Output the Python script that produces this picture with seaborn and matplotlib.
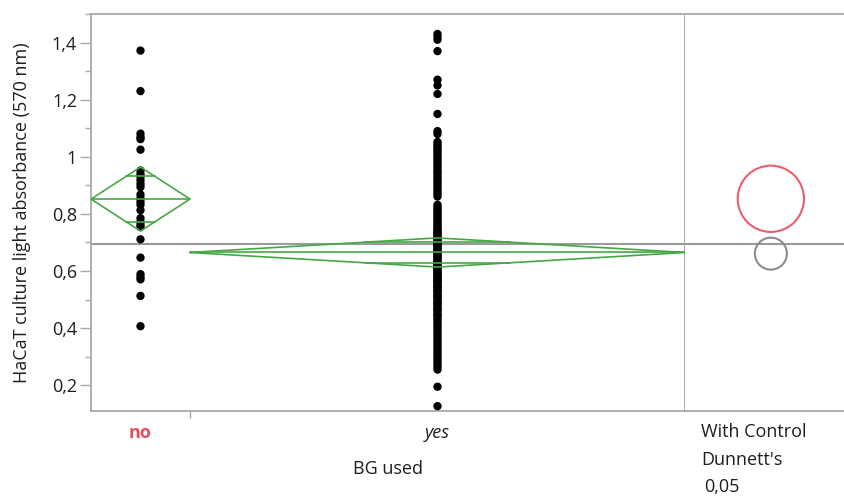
import numpy as np
import pandas as pd
import matplotlib
matplotlib.use("Agg")
import matplotlib.pyplot as plt
import seaborn as sns
from matplotlib.ticker import FixedLocator, FuncFormatter

# ------------------------------------------------------------
# Dati
# ------------------------------------------------------------
groups = ["no", "yes"]

no_values = [1.372, 1.230, 1.081, 1.069, 1.062, 1.025, 0.952, 0.940, 0.930,
             0.918, 0.905, 0.894, 0.868, 0.855, 0.843, 0.832, 0.813, 0.785,
             0.772, 0.762, 0.754, 0.711, 0.647, 0.589, 0.579, 0.571, 0.513,
             0.407]

yes_values = [1.43, 1.42, 1.41, 1.37, 1.27, 1.25, 1.22, 1.15, 1.09, 1.08,
              1.052, 1.046, 1.038, 1.031, 1.024, 1.017, 1.009, 1.001, 0.994,
              0.986, 0.978, 0.969, 0.962, 0.953, 0.946, 0.938, 0.929, 0.921,
              0.913, 0.904, 0.896, 0.887, 0.878, 0.869, 0.861,
              0.832, 0.824, 0.817, 0.811, 0.803, 0.797, 0.790, 0.784, 0.777,
              0.771, 0.765, 0.758, 0.752, 0.747, 0.741, 0.736, 0.730, 0.725,
              0.719, 0.714, 0.708, 0.703, 0.698, 0.692, 0.687, 0.681, 0.676,
              0.671, 0.665, 0.660, 0.655, 0.649, 0.644, 0.638, 0.633, 0.628,
              0.622, 0.617, 0.611, 0.606, 0.601, 0.595, 0.590, 0.584, 0.579,
              0.573, 0.568, 0.562, 0.556, 0.550, 0.544, 0.538, 0.532, 0.526,
              0.519, 0.513, 0.506, 0.499, 0.492, 0.485, 0.478, 0.471, 0.463,
              0.456, 0.448, 0.440, 0.432, 0.424, 0.416, 0.407, 0.399, 0.390,
              0.381, 0.372, 0.363, 0.354, 0.345, 0.336, 0.327, 0.318, 0.309,
              0.300, 0.291, 0.282, 0.273, 0.264, 0.255,
              0.735, 0.712, 0.690, 0.668, 0.652, 0.630, 0.614, 0.598, 0.581,
              0.565, 0.547, 0.529, 0.510, 0.489, 0.467, 0.445,
              0.195, 0.127]

# medie, semi-ampiezza IC 95% (diamanti) e media generale
group_means = [0.852, 0.665]
group_ci_half = [0.112, 0.051]
grand_mean = 0.696

# cerchi di Dunnett (centro, raggio in unità y)
circle_centers = [0.853, 0.661]
circle_radii = [0.116, 0.056]
circle_colors = ["#e8606e", "#8c8c8c"]

y_ticks = [0.2, 0.4, 0.6, 0.8, 1.0, 1.2, 1.4]
y_minor = [0.1, 0.3, 0.5, 0.7, 0.9, 1.1, 1.3, 1.5]

# ------------------------------------------------------------
# DataFrame: larghezza dei gruppi proporzionale a n (stile JMP)
# ------------------------------------------------------------
counts = [len(no_values), len(yes_values)]
starts = np.concatenate([[0], np.cumsum(counts)[:-1]])
ends = np.cumsum(counts)
centers = (starts + ends) / 2

df = pd.concat([
    pd.DataFrame({"BG": g, "value": v, "x": c})
    for g, v, c in zip(groups, [no_values, yes_values], centers)
])

sns.set_style("white")
plt.rcParams["font.family"] = ["Open Sans", "DejaVu Sans"]

FS = 13
TXT = "#1e1e1e"
W, H = 844, 499
fig = plt.figure(figsize=(W / 100, H / 100), dpi=100)
left, right, top, bottom = 91, 685, 14, 411
ax = fig.add_axes([left / W, 1 - bottom / H, (right - left) / W, (bottom - top) / H])
ax2 = fig.add_axes([right / W, 1 - bottom / H, (W - right) / W, (bottom - top) / H])

ylim = (0.11, 1.5)
spine_col = "#a8a8a8"
green = "#45a845"

# punti
sns.scatterplot(data=df, x="x", y="value", color="black", s=36,
                edgecolor="none", ax=ax, zorder=3, legend=False)

# diamanti delle medie
for s, e, c, m, h in zip(starts, ends, centers, group_means, group_ci_half):
    ax.plot([s, c, e, c, s], [m, m + h, m, m - h, m], color=green, lw=1.2, zorder=4)
    ax.plot([s, e], [m, m], color=green, lw=1.2, zorder=4)
    k = 1 / np.sqrt(2)
    half_w = (e - s) / 2 * (1 - k)
    for d in (h * k, -h * k):
        ax.plot([c - half_w, c + half_w], [m + d, m + d], color=green, lw=1.2, zorder=4)

ax.axhline(grand_mean, color="#9a9a9a", lw=1.5, zorder=2)
ax2.axhline(grand_mean, color="#9a9a9a", lw=1.5, zorder=2)

ax.set_xlim(0, ends[-1])
ax.set_ylim(*ylim)

# assi
fmt = FuncFormatter(lambda v, p: f"{v:g}".replace(".", ","))
ax.yaxis.set_major_locator(FixedLocator(y_ticks))
ax.yaxis.set_minor_locator(FixedLocator(y_minor))
ax.yaxis.set_major_formatter(fmt)
ax.tick_params(axis="y", which="major", length=8, width=1, color=spine_col,
               labelsize=FS, labelcolor=TXT, pad=2, left=True)
ax.tick_params(axis="y", which="minor", length=4, width=1, color=spine_col, left=True)

ax.set_xticks(centers)
ax.set_xticklabels(groups)
ax.xaxis.set_minor_locator(FixedLocator(list(ends[:-1])))
ax.tick_params(axis="x", which="major", length=0, labelsize=FS, pad=9)
ax.tick_params(axis="x", which="minor", length=5, width=1, color=spine_col, bottom=True)
lbls = ax.get_xticklabels()
lbls[0].set_color("#e0505a")
lbls[0].set_fontweight("bold")
lbls[1].set_style("italic")
lbls[1].set_color(TXT)

ax.set_xlabel("BG used", fontsize=FS, color=TXT, labelpad=13)
ax.set_ylabel("HaCaT culture light absorbance (570 nm)", fontsize=FS,
              color=TXT, labelpad=15)

for a in (ax, ax2):
    for sp in a.spines.values():
        sp.set_color(spine_col)
        sp.set_linewidth(1.3)
ax2.spines["right"].set_visible(False)
ax2.spines["left"].set_visible(False)

# pannello Dunnett
ax2.set_xlim(0, 1)
ax2.set_ylim(*ylim)
ax2.set_xticks([])
ax2.set_yticks([])
px_per_unit = (bottom - top) / (ylim[1] - ylim[0])
for cy, r, col in zip(circle_centers, circle_radii, circle_colors):
    diam_pt = 2 * r * px_per_unit * 72 / 100
    ax2.scatter([0.54], [cy], s=diam_pt ** 2, facecolors="none",
                edgecolors=col, linewidths=1.5, zorder=3)

for txt, yy, xx in [("With Control", 437, 701), ("Dunnett's", 465, 701), ("0,05", 492, 704)]:
    fig.text(xx / W, 1 - yy / H, txt, fontsize=FS, color=TXT, va="baseline")

fig.savefig("out.png", dpi=100)
